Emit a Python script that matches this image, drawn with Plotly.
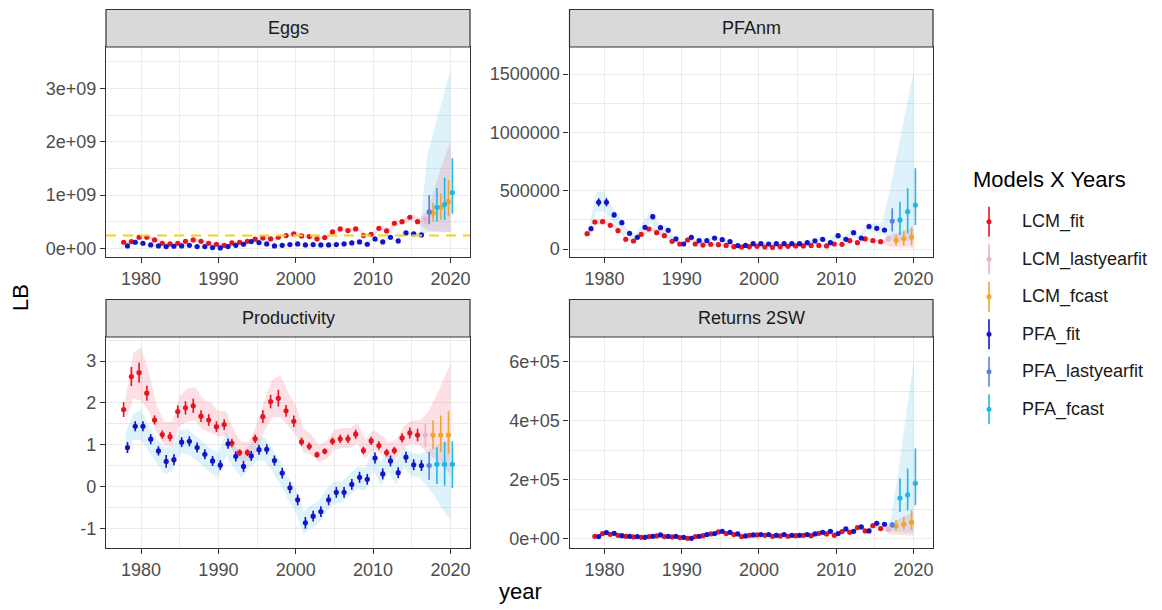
import plotly.graph_objects as go

W, H = 1162, 610          # size of the reference picture
OFF = 8                   # the page body has an 8 px margin
FW, FH = W - OFF, H - OFF # figure size so that it fits in the window
FONT = "Liberation Sans, Arial, sans-serif"

# ---------------- data ----------------
years = list(range(1978, 2021))        # Eggs, PFAnm, Productivity
years_ret = list(range(1979, 2021))    # Returns 2SW
LAST_FIT = 2016
LASTYEAR = 2017

series_names = ["LCM_fit", "LCM_lastyearfit", "LCM_fcast", "PFA_fit", "PFA_lastyearfit", "PFA_fcast"]

# Eggs (x 1e9)
eggs_lcm_mid = [0.113,0.125,0.207,0.207,0.157,0.094,0.081,0.094,0.130,0.157,0.130,0.094,0.075,0.056,0.100,0.113,0.130,0.170,0.194,0.175,
                0.207,0.238,0.270,0.232,0.220,0.175,0.200,0.307,0.363,0.332,0.363,0.238,0.263,0.376,0.326,0.470,0.500,0.583,0.500,
                0.545,0.660,0.764,0.877]
eggs_lcm_end_lo = [0.44,0.50,0.53,0.60]
eggs_lcm_end_hi = [0.60,0.85,1.03,1.28]
eggs_lcm_rib_lo = [0.09,0.10,0.18,0.18,0.13,0.07,0.06,0.07,0.10,0.13,0.10,0.07,0.05,0.04,0.08,0.09,0.10,0.14,0.16,0.15,0.18,0.20,0.23,0.20,0.19,
                   0.15,0.17,0.27,0.32,0.29,0.32,0.20,0.22,0.33,0.28,0.42,0.45,0.52,0.44,0.34,0.32,0.31,0.31]
eggs_lcm_rib_hi = [0.14,0.15,0.24,0.24,0.19,0.12,0.11,0.12,0.16,0.19,0.16,0.12,0.10,0.08,0.13,0.14,0.16,0.20,0.23,0.21,0.24,0.28,0.31,0.27,0.26,
                   0.21,0.24,0.35,0.41,0.38,0.41,0.28,0.31,0.43,0.38,0.53,0.56,0.65,0.57,0.70,1.15,1.60,2.00]
eggs_pfa_mid = [0.044,0.113,0.094,0.063,0.044,0.031,0.038,0.044,0.056,0.031,0.031,0.013,0.006,0.031,0.056,0.075,0.125,0.106,0.081,0.044,
                0.056,0.069,0.081,0.063,0.069,0.063,0.063,0.069,0.081,0.100,0.119,0.075,0.175,0.119,0.207,0.138,0.288,0.270,0.250,
                0.683,0.770,0.820,1.046]
eggs_pfa_end_lo = [0.45,0.50,0.53,0.65]
eggs_pfa_end_hi = [1.00,1.13,1.33,1.69]
eggs_pfa_rib_lo = [0.03,0.09,0.07,0.05,0.03,0.02,0.02,0.03,0.04,0.02,0.02,0.005,0.0,0.02,0.04,0.06,0.10,0.09,0.06,0.03,0.04,0.05,0.06,0.05,0.05,
                   0.05,0.05,0.05,0.06,0.08,0.10,0.06,0.15,0.10,0.18,0.12,0.25,0.24,0.22,0.30,0.30,0.30,0.30]
eggs_pfa_rib_hi = [0.06,0.14,0.12,0.08,0.06,0.05,0.05,0.06,0.07,0.05,0.05,0.03,0.02,0.05,0.07,0.09,0.15,0.13,0.10,0.06,0.07,0.09,0.10,0.08,0.09,
                   0.08,0.08,0.09,0.10,0.12,0.14,0.10,0.20,0.14,0.24,0.16,0.33,0.31,0.29,1.75,2.28,2.82,3.35]
eggs_reference = 0.24

# PFAnm (thousands)
pfanm_lcm_mid = [131.5,231.6,234,203,157,83,68.6,126,171.5,140,114,66,43,77,43,34,40,37,31,20,17,20,23,17,14,20,23,26,26,31,
                 31,26,43,40,71,54,86,71,63,86,74,89,103]
pfanm_lcm_end_lo = [65,29,29,29]
pfanm_lcm_end_hi = [105,120,157,186]
pfanm_lcm_rib_lo = [115,210,212,185,140,72,58,110,152,124,100,56,36,66,36,28,33,30,25,15,12,15,18,12,10,15,18,20,20,25,25,20,36,33,62,46,
                    75,61,52,15,10,10,10]
pfanm_lcm_rib_hi = [150,255,258,224,175,95,80,143,192,158,130,77,51,90,51,41,48,45,38,26,23,26,29,23,19,26,29,33,33,38,38,33,51,48,82,63,
                    99,82,75,120,140,160,180]
pfanm_pfa_mid = [174,400,400,292,226,134,100,186,277,183,160,86,43,100,71,71,94,80,63,29,31,46,46,43,46,46,46,46,54,69,
                 83,54,114,83,140,94,192,177,163,240,249,320,377]
pfanm_pfa_err_lo = [160,366,366,270,208,122,90,170,255,168,146,77,37,90,63,63,85,72,56,24,26,40,40,37,40,40,40,40,47,61,74,47,102,73,126,
                    83,175,160,146,149,120,134,206]
pfanm_pfa_err_hi = [188,434,434,314,244,146,110,202,299,198,174,95,49,110,79,79,103,88,70,34,36,52,52,49,52,52,52,52,61,77,92,61,126,93,154,
                    105,209,194,180,349,406,520,692]
pfanm_pfa_rib_lo = [140,320,320,235,180,105,78,150,225,145,128,66,32,78,55,55,74,62,48,21,23,35,35,32,35,35,35,35,42,54,66,42,92,66,114,75,
                    160,145,132,80,70,70,70]
pfanm_pfa_rib_hi = [210,490,490,355,275,165,125,225,335,225,195,108,56,125,90,90,116,100,80,38,40,58,58,56,58,58,58,58,68,86,104,68,140,104,
                    170,116,230,215,230,520,850,1185,1520]

# Productivity
prod_lcm_mid = [1.84,2.63,2.72,2.23,1.59,1.24,1.19,1.79,1.88,1.93,1.68,1.59,1.43,1.48,1.04,0.81,0.81,1.14,1.67,2.03,
                2.11,1.81,1.56,1.07,0.96,0.76,0.84,1.08,1.14,1.14,1.25,0.86,1.09,0.98,0.81,0.86,1.16,1.28,1.23,
                1.23,1.23,1.23,1.23]
prod_lcm_err_lo = [1.66,2.40,2.48,2.05,1.48,1.14,1.08,1.64,1.72,1.76,1.54,1.45,1.30,1.35,0.94,0.73,0.73,1.04,1.52,1.87,1.91,1.67,1.42,0.97,
                   0.87,0.69,0.77,0.99,1.04,1.04,1.14,0.77,0.99,0.88,0.72,0.77,1.05,1.15,1.08,0.94,0.90,0.82,0.78]
prod_lcm_err_hi = [2.02,2.86,2.96,2.41,1.70,1.34,1.30,1.94,2.04,2.10,1.82,1.73,1.56,1.61,1.14,0.89,0.89,1.24,1.82,2.19,2.31,1.95,1.70,1.17,
                   1.05,0.83,0.91,1.17,1.24,1.24,1.36,0.95,1.19,1.08,0.90,0.95,1.27,1.41,1.38,1.50,1.58,1.70,1.80]
prod_lcm_rib_lo = [1.58,2.10,2.06,1.80,1.30,0.98,0.95,1.45,1.55,1.58,1.35,1.28,1.20,1.20,0.80,0.60,0.62,0.85,1.35,1.65,1.66,1.45,1.25,0.82,
                   0.75,0.58,0.65,0.88,0.92,0.92,1.02,0.66,0.88,0.78,0.62,0.66,0.92,1.02,0.98,0.80,0.65,0.48,0.30]
prod_lcm_rib_hi = [2.10,3.20,3.33,2.75,1.95,1.55,1.55,2.15,2.35,2.38,2.10,2.00,1.80,1.80,1.35,1.06,1.08,1.50,2.10,2.55,2.66,2.25,1.95,1.40,
                   1.25,1.00,1.10,1.35,1.40,1.40,1.52,1.12,1.35,1.24,1.06,1.12,1.45,1.58,1.58,1.75,2.10,2.50,2.93]
prod_pfa_mid = [0.93,1.44,1.44,1.13,0.85,0.60,0.64,1.06,1.08,0.93,0.77,0.61,0.51,1.02,0.72,0.48,0.73,0.88,0.89,0.62,
                0.32,-0.03,-0.32,-0.87,-0.71,-0.60,-0.32,-0.14,-0.14,0.05,0.22,0.17,0.68,0.30,0.61,0.33,0.70,0.52,0.50,
                0.50,0.53,0.53,0.53]
prod_pfa_err_lo = [0.80,1.32,1.32,1.01,0.74,0.45,0.51,0.94,0.96,0.81,0.65,0.49,0.39,0.90,0.60,0.35,0.61,0.76,0.77,0.50,0.19,-0.16,-0.45,
                   -1.01,-0.84,-0.73,-0.45,-0.27,-0.27,-0.08,0.09,0.04,0.55,0.17,0.48,0.20,0.57,0.39,0.37,0.16,0.06,0.02,-0.04]
prod_pfa_err_hi = [1.06,1.56,1.56,1.25,0.96,0.75,0.77,1.18,1.20,1.05,0.89,0.73,0.63,1.14,0.84,0.61,0.85,1.00,1.01,0.74,0.45,0.10,-0.19,
                   -0.73,-0.58,-0.47,-0.19,-0.01,-0.01,0.18,0.35,0.30,0.81,0.43,0.74,0.46,0.83,0.65,0.63,0.82,0.94,1.06,1.08]
prod_pfa_rib_lo = [0.70,1.12,1.10,0.85,0.58,0.30,0.35,0.78,0.78,0.65,0.48,0.32,0.22,0.75,0.45,0.20,0.45,0.62,0.62,0.35,0.05,-0.30,-0.60,
                   -1.13,-0.98,-0.88,-0.60,-0.40,-0.40,-0.20,-0.05,-0.10,0.42,0.02,0.35,0.05,0.45,0.25,0.22,0.00,-0.25,-0.55,-0.81]
prod_pfa_rib_hi = [1.26,1.75,1.82,1.45,1.15,0.94,0.95,1.35,1.38,1.22,1.05,0.90,0.82,1.30,1.00,0.78,1.00,1.15,1.18,0.90,0.60,0.25,-0.05,
                   -0.60,-0.45,-0.35,-0.05,0.12,0.12,0.30,0.48,0.45,0.92,0.58,0.88,0.60,0.95,0.80,0.78,0.85,0.95,1.05,1.10]

# Returns 2SW (thousands)
ret_lcm_mid = [7.9,17,14.7,11.3,7.9,5.7,4.5,6.8,9,6.8,5.7,3.4,1.1,6.8,10,15.8,22.6,17,13.6,6.8,
               11.3,12.5,11.3,7.9,9,7.9,10,11.3,10,18,15.8,11.3,23.8,21.5,37.4,26,44,34,
               30.6,43,48.7,55.5]
ret_lcm_end_lo = [24,28,30.6,30.6]
ret_lcm_end_hi = [38,62,73.6,96]
ret_lcm_rib_lo = [5.5,14,12,9,5.5,3.5,2.5,4.5,6.5,4.5,3.5,1.5,0,4.5,7.5,13,19.5,14,11,4.5,9,10,9,5.5,6.5,5.5,7.5,9,7.5,15,13,9,20.5,18.5,
                  33,22.5,39.5,30,15,12,10,10]
ret_lcm_rib_hi = [10.5,20,17.5,14,10.5,8,7,9.5,12,9.5,8,5.5,3,9.5,13,19,26,20,16.5,9.5,14,15.5,14,10.5,11.5,10.5,13,14,13,21,19,14,27.5,25,
                  42,30,49,38,48,65,78,90]
ret_pfa_mid = [6.8,20.4,18,10,7.9,6.8,4.5,7.9,12.5,7.9,7.9,4.5,1.1,7.9,13.6,17,24.9,21.5,15.8,9,
               12.5,13.6,13.6,11.3,13.6,11.3,11.3,13.6,15.8,21.5,24.9,17,32.8,24.9,39.6,26,52,48.7,
               46.4,138,149,188]
ret_pfa_end_lo = [38,90.6,96,113]
ret_pfa_end_hi = [56,204,238,306]
ret_pfa_rib_lo = [4.5,17,15,7.5,5.5,4.5,2.5,5.5,9.5,5.5,5.5,2.5,0,5.5,10.5,13.5,21,18,12.5,6.5,9.5,10.5,10.5,8.5,10.5,8.5,8.5,10.5,12.5,18,
                  21,13.5,28,20.5,34.5,21.5,46,42.5,25,22,20,20]
ret_pfa_rib_hi = [9.5,24,21.5,13,10.5,9.5,7,10.5,16,10.5,10.5,7,3,10.5,17,20.5,29,25,19.5,12,16,17,17,14.5,17,14.5,14.5,17,19.5,25,
                  29,20.5,38,29.5,45,31,58.5,55,55,220,410,600]

# tick labels
x_ticks = [1980, 1990, 2000, 2010, 2020]
x_minor = [1985, 1995, 2005, 2015]
eggs_ticks, eggs_ticktext, eggs_minor = [0, 1, 2, 3], ["0e+00", "1e+09", "2e+09", "3e+09"], [0.5, 1.5, 2.5, 3.5]
pfanm_ticks, pfanm_ticktext, pfanm_minor = [0, 500, 1000, 1500], ["0", "500000", "1000000", "1500000"], [250, 750, 1250]
prod_ticks, prod_ticktext, prod_minor = [-1, 0, 1, 2, 3], ["-1", "0", "1", "2", "3"], [-0.5, 0.5, 1.5, 2.5, 3.5]
ret_ticks, ret_ticktext, ret_minor = [0, 200, 400, 600], ["0e+00", "2e+05", "4e+05", "6e+05"], [100, 300, 500]

# ---------------- styling ----------------
COL = {
    "LCM_fit": "#E6141E",
    "LCM_lastyearfit": "#E8B6C8",
    "LCM_fcast": "#F0A52D",
    "PFA_fit": "#1414C8",
    "PFA_lastyearfit": "#5B7FE0",
    "PFA_fcast": "#1FB6E8",
}
RIB = {"LCM": "rgba(240,100,130,0.20)", "PFA": "rgba(30,170,230,0.15)"}
DODGE = {"LCM": -0.25, "PFA": 0.25}
GRID = "#EBEBEB"
DARK = "#333333"


def px_x(p):
    return (p - OFF) / FW


def px_y(p):
    return 1 - (p - OFF) / FH


LEFT = [px_x(106), px_x(470)]
RIGHT = [px_x(569.5), px_x(933)]
TOP = [px_y(257), px_y(47)]
BOTTOM = [px_y(548), px_y(337)]
XRANGE = [1975.47, 2022.53]

fig = go.Figure()


def model_data(mid, rib_lo, rib_hi, err_lo, err_hi):
    return dict(mid=mid, rlo=rib_lo, rhi=rib_hi, elo=err_lo, ehi=err_hi)


def add_panel(k, yrs, lcm, pfa):
    xa = "x" if k == 1 else f"x{k}"
    ya = "y" if k == 1 else f"y{k}"
    for model, d in (("PFA", pfa), ("LCM", lcm)):
        fig.add_trace(go.Scatter(
            x=yrs + yrs[::-1], y=d["rhi"] + d["rlo"][::-1], fill="toself",
            fillcolor=RIB[model], line=dict(width=0, color="rgba(0,0,0,0)"),
            mode="lines", hoverinfo="skip", showlegend=False, xaxis=xa, yaxis=ya))
    for model, d in (("LCM", lcm), ("PFA", pfa)):
        n = len(yrs)
        elo, ehi = d["elo"], d["ehi"]
        if len(elo) < n:  # only the last years have visible error bars
            pad = n - len(elo)
            elo = d["mid"][:pad] + elo
            ehi = d["mid"][:pad] + ehi
        segs = (
            ("fit", [i for i, y in enumerate(yrs) if y <= LAST_FIT]),
            ("lastyearfit", [i for i, y in enumerate(yrs) if y == LASTYEAR]),
            ("fcast", [i for i, y in enumerate(yrs) if y > LASTYEAR]),
        )
        for seg, idx in segs:
            name = f"{model}_{seg}"
            c = COL[name]
            fig.add_trace(go.Scatter(
                x=[yrs[i] + DODGE[model] for i in idx],
                y=[d["mid"][i] for i in idx],
                mode="markers", name=name, showlegend=False,
                marker=dict(color=c, size=5.2, line=dict(width=0)),
                error_y=dict(type="data", symmetric=False,
                             array=[ehi[i] - d["mid"][i] for i in idx],
                             arrayminus=[d["mid"][i] - elo[i] for i in idx],
                             color=c, thickness=1.6, width=0),
                xaxis=xa, yaxis=ya))


add_panel(1, years,
          model_data(eggs_lcm_mid, eggs_lcm_rib_lo, eggs_lcm_rib_hi, eggs_lcm_end_lo, eggs_lcm_end_hi),
          model_data(eggs_pfa_mid, eggs_pfa_rib_lo, eggs_pfa_rib_hi, eggs_pfa_end_lo, eggs_pfa_end_hi))
add_panel(2, years,
          model_data(pfanm_lcm_mid, pfanm_lcm_rib_lo, pfanm_lcm_rib_hi, pfanm_lcm_end_lo, pfanm_lcm_end_hi),
          model_data(pfanm_pfa_mid, pfanm_pfa_rib_lo, pfanm_pfa_rib_hi, pfanm_pfa_err_lo, pfanm_pfa_err_hi))
add_panel(3, years,
          model_data(prod_lcm_mid, prod_lcm_rib_lo, prod_lcm_rib_hi, prod_lcm_err_lo, prod_lcm_err_hi),
          model_data(prod_pfa_mid, prod_pfa_rib_lo, prod_pfa_rib_hi, prod_pfa_err_lo, prod_pfa_err_hi))
add_panel(4, years_ret,
          model_data(ret_lcm_mid, ret_lcm_rib_lo, ret_lcm_rib_hi, ret_lcm_end_lo, ret_lcm_end_hi),
          model_data(ret_pfa_mid, ret_pfa_rib_lo, ret_pfa_rib_hi, ret_pfa_end_lo, ret_pfa_end_hi))

tickfont = dict(family=FONT, size=18, color="#4D4D4D")


def xaxis(domain, anchor):
    return dict(domain=domain, anchor=anchor, range=XRANGE, tickmode="array", tickvals=x_ticks,
                ticks="outside", ticklen=5, tickwidth=1.3, tickcolor=DARK, tickfont=tickfont,
                showgrid=True, gridcolor=GRID, gridwidth=1.4, zeroline=False,
                showline=True, mirror=True, linecolor=DARK, linewidth=1.2, automargin=False,
                minor=dict(tickmode="array", tickvals=x_minor, showgrid=True, gridcolor=GRID,
                           gridwidth=0.8, ticks=""))


def yaxis(domain, anchor, rng, tv, tt, mv):
    return dict(domain=domain, anchor=anchor, range=rng, tickmode="array", tickvals=tv, ticktext=tt,
                ticks="outside", ticklen=5, tickwidth=1.3, tickcolor=DARK, tickfont=tickfont,
                showgrid=True, gridcolor=GRID, gridwidth=1.4, zeroline=False,
                showline=True, mirror=True, linecolor=DARK, linewidth=1.2, automargin=False,
                minor=dict(tickmode="array", tickvals=mv, showgrid=True, gridcolor=GRID,
                           gridwidth=0.8, ticks=""))


shapes = []
annotations = []

# strips
strips = [("Eggs", LEFT, (9.5, 47)), ("PFAnm", RIGHT, (9.5, 47)),
          ("Productivity", LEFT, (299.5, 337)), ("Returns 2SW", RIGHT, (299.5, 337))]
for label, dom, (t, b) in strips:
    shapes.append(dict(type="rect", xref="paper", yref="paper", x0=dom[0], x1=dom[1],
                       y0=px_y(b), y1=px_y(t), fillcolor="#D9D9D9",
                       line=dict(color=DARK, width=1.2), layer="above"))
    annotations.append(dict(text=label, xref="paper", yref="paper", x=(dom[0] + dom[1]) / 2,
                            y=px_y((t + b) / 2), showarrow=False, xanchor="center", yanchor="middle",
                            font=dict(family=FONT, size=18, color="#1A1A1A")))

# reference line in Eggs
shapes.append(dict(type="line", xref="x domain", yref="y", x0=0, x1=1, y0=eggs_reference, y1=eggs_reference,
                   line=dict(color="#F2D21B", width=2.2, dash="10px,7px"), layer="above"))

# axis titles
annotations.append(dict(text="LB", xref="paper", yref="paper", x=px_x(21), y=px_y(298), textangle=-90,
                        showarrow=False, xanchor="center", yanchor="middle",
                        font=dict(family=FONT, size=22, color="black")))
annotations.append(dict(text="year", xref="paper", yref="paper", x=px_x(520), y=px_y(591),
                        showarrow=False, xanchor="center", yanchor="middle",
                        font=dict(family=FONT, size=22, color="black")))

# legend (drawn manually to reproduce ggplot's pointrange keys)
annotations.append(dict(text="Models X Years", xref="paper", yref="paper", x=px_x(971), y=px_y(179),
                        showarrow=False, xanchor="left", yanchor="middle",
                        font=dict(family=FONT, size=22, color="black")))
for j, name in enumerate(series_names):
    cy = 221.7 + j * 37.5
    c = COL[name]
    shapes.append(dict(type="line", xref="paper", yref="paper", x0=px_x(989), x1=px_x(989),
                       y0=px_y(cy - 15), y1=px_y(cy + 15), line=dict(color=c, width=1.6)))
    shapes.append(dict(type="circle", xref="paper", yref="paper", x0=px_x(986.5), x1=px_x(991.5),
                       y0=px_y(cy + 2.5), y1=px_y(cy - 2.5), fillcolor=c, line=dict(width=0)))
    annotations.append(dict(text=name, xref="paper", yref="paper", x=px_x(1020), y=px_y(cy),
                            showarrow=False, xanchor="left", yanchor="middle",
                            font=dict(family=FONT, size=18, color="#1A1A1A")))

fig.update_layout(
    width=FW, height=FH, autosize=False,
    margin=dict(l=0, r=0, t=0, b=0, pad=0),
    paper_bgcolor="white", plot_bgcolor="white",
    showlegend=False,
    font=dict(family=FONT),
    xaxis=xaxis(LEFT, "y"), yaxis=yaxis(TOP, "x", [-0.164, 3.78], eggs_ticks, eggs_ticktext, eggs_minor),
    xaxis2=xaxis(RIGHT, "y2"), yaxis2=yaxis(TOP, "x2", [-68.6, 1731.5], pfanm_ticks, pfanm_ticktext, pfanm_minor),
    xaxis3=xaxis(LEFT, "y3"), yaxis3=yaxis(BOTTOM, "x3", [-1.471, 3.574], prod_ticks, prod_ticktext, prod_minor),
    xaxis4=xaxis(RIGHT, "y4"), yaxis4=yaxis(BOTTOM, "x4", [-31.9, 684.9], ret_ticks, ret_ticktext, ret_minor),
    shapes=shapes, annotations=annotations,
)

fig.write_html("out.html")
